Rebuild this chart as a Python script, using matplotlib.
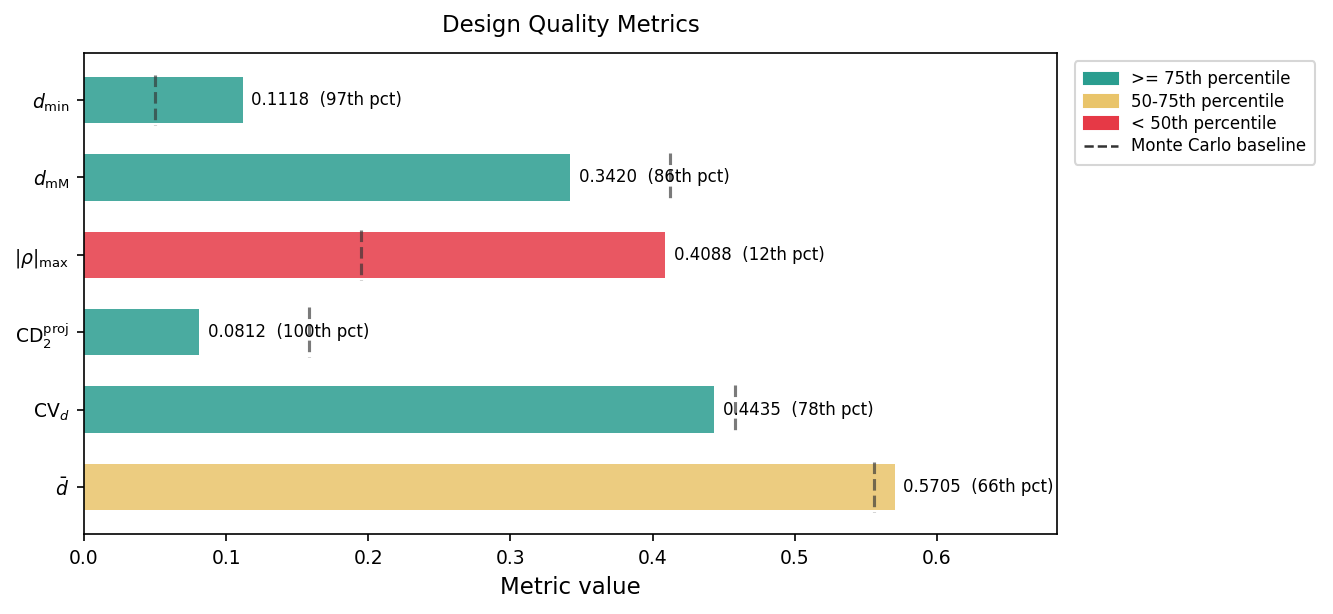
import matplotlib.pyplot as plt
from matplotlib.patches import Patch
from matplotlib.lines import Line2D

labels = [r'$d_{\min}$', r'$d_{\mathrm{mM}}$', r'$|\rho|_{\max}$',
          r'$\mathrm{CD}_2^{\mathrm{proj}}$', r'$\mathrm{CV}_d$', r'$\bar{d}$']
values = [0.1118, 0.3420, 0.4088, 0.0812, 0.4435, 0.5705]
pct = [97, 86, 12, 100, 78, 66]
baseline = [0.050, 0.412, 0.195, 0.158, 0.458, 0.556]

green = '#2a9d8f'
yellow = '#e9c46a'
red = '#e63946'


def pick(p):
    if p >= 75:
        return green
    if p >= 50:
        return yellow
    return red


colors = [pick(p) for p in pct]

fig, ax = plt.subplots(figsize=(1333 / 150, 614 / 150), dpi=150)
fig.subplots_adjust(left=0.063, right=0.793, top=0.9137, bottom=0.1303)

ypos = list(range(len(labels)))
ax.barh(ypos, values, height=0.6, color=colors, alpha=0.85)
for y, b in zip(ypos, baseline):
    ax.plot([b, b], [y - 0.32, y + 0.32], ls='--', color='#333333', lw=1.5, alpha=0.65)
for y, v, p in zip(ypos, values, pct):
    ax.text(v + 0.006, y, f'{v:.4f}  ({p}th pct)', va='center', ha='left', fontsize=8)

ax.set_yticks(ypos)
ax.set_yticklabels(labels, fontsize=9)
ax.set_ylim(5.607, -0.607)
ax.set_xlim(0, max(values + baseline) * 1.2)
ax.tick_params(axis='x', labelsize=9)
ax.set_xlabel('Metric value', fontsize=11)
ax.set_title('Design Quality Metrics', fontsize=11, pad=10)

handles = [Patch(color=green, label='>= 75th percentile'),
           Patch(color=yellow, label='50-75th percentile'),
           Patch(color=red, label='< 50th percentile'),
           Line2D([0], [0], ls='--', color='#333333', lw=1.2, label='Monte Carlo baseline')]
ax.legend(handles=handles, loc='upper left', bbox_to_anchor=(1.01, 1), fontsize=8,
          labelspacing=0.26, borderpad=0.55)

plt.savefig('out.png', dpi=150)
